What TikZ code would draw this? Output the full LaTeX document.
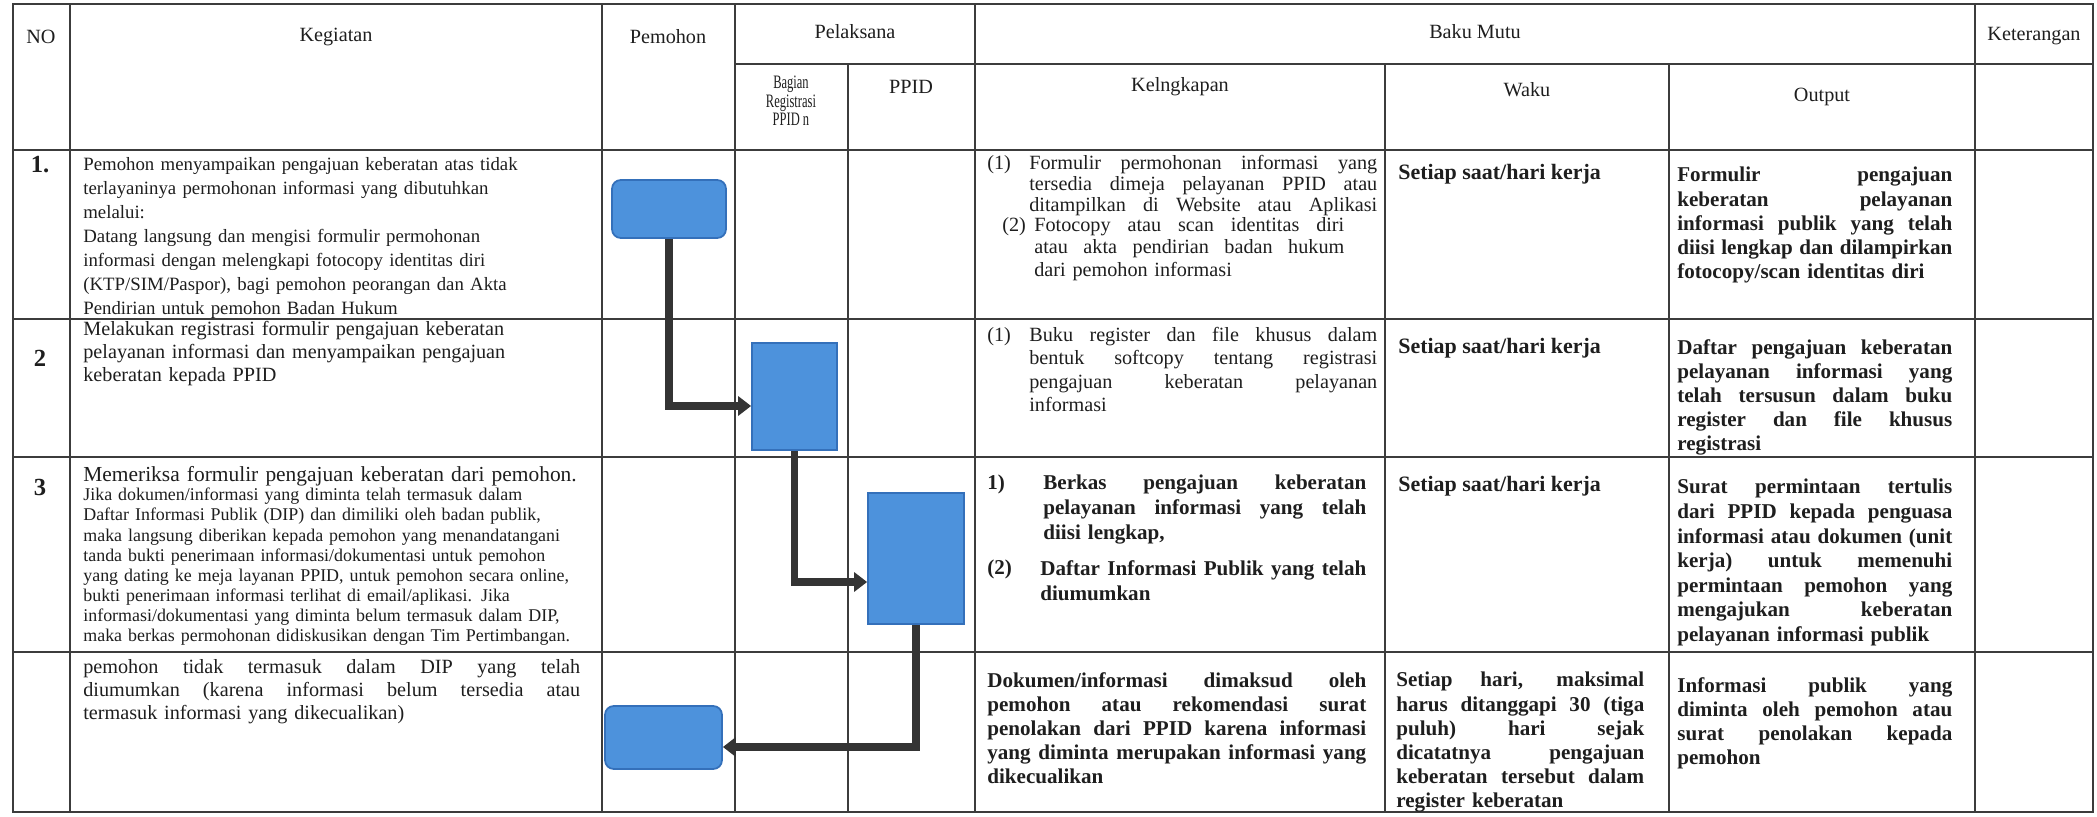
\documentclass[tikz,border=0pt]{standalone}
\usepackage{fontspec}
\setmainfont{Liberation Serif}
\newfontfamily\condensed[FakeStretch=0.66]{Liberation Serif}
\usetikzlibrary{positioning,arrows.meta}
\setlength{\parindent}{0pt}

\definecolor{actblue}{RGB}{77,146,220}
\definecolor{actedge}{RGB}{52,112,186}
\definecolor{linegray}{RGB}{60,60,60}
\definecolor{ink}{RGB}{30,30,30}
\definecolor{flowgray}{RGB}{52,52,52}

\newlength{\jw}
\newcommand{\jl}[1]{\makebox[\jw][s]{\spaceskip=0.25em plus 1fil\xspaceskip=0.25em plus 1fil\relax#1}}
\newcommand{\fs}[2]{\fontsize{#1}{#2}\selectfont}

\tikzstyle{tabline}=[draw=linegray, line width=0.8pt]
\tikzstyle{head}=[inner sep=0pt, text=ink, font=\fs{11.5}{12}]
\tikzstyle{txt}=[anchor=north west, inner sep=0pt, align=left, text=ink, font=\fs{11.5}{12.8}]
\tikzstyle{btxt}=[txt, font=\bfseries\fs{12}{13.7}]
\tikzstyle{jbox}=[text width=#1, execute at begin node={\setlength{\jw}{#1}}]
\tikzstyle{num}=[inner sep=0pt, text=ink, font=\bfseries\fs{14}{14}]
\tikzstyle{act}=[draw=actedge, fill=actblue, line width=1pt, inner sep=0pt]
\tikzstyle{flow}=[draw=flowgray, line width=4pt, -{Triangle[length=0.26cm,width=0.38cm]}]

\begin{document}
\begin{tikzpicture}[x=0.02cm, y=-0.02cm]
\useasboundingbox (0,0) rectangle (2097,817);

% table frame
\draw[tabline] (13,4) rectangle (2093,812);
\foreach \yy in {150,319,457,652} \draw[tabline] (13,\yy) -- (2093,\yy);
\draw[tabline] (735,64) -- (2093,64);
\foreach \xx in {70,602,735,975,1975} \draw[tabline] (\xx,4) -- (\xx,812);
\foreach \xx in {848,1385,1669} \draw[tabline] (\xx,64) -- (\xx,812);

% header
\node[head] at (41,37) (hno) {NO};
\node[head] at (336,37) (hkeg) {Kegiatan};
\node[head] at (668,37) (hpem) {Pemohon};
\node[head] at (855,32) (hpel) {Pelaksana};
\node[head] at (1475,32) (hbaku) {Baku Mutu};
\node[head] at (2034,36) (hket) {Keterangan};
\node[head, align=center, font=\condensed\fs{10.8}{8.7}] at (791,101) (hbag) {Bagian\\Registrasi\\PPID n};
\node[head] at (911,87) (hppid) {PPID};
\node[head] at (1180,87) (hkel) {Kelngkapan};
\node[head] at (1527,90) (hwaku) {Waku};
\node[head] at (1822,97) (hout) {Output};

% nomor
\node[num] at (40,165) (n1) {1.};
\node[num] at (40,358) (n2) {2};
\node[num] at (40,487) (n3) {3};

% kegiatan
\node[txt, text width=10.4cm, font=\fs{10.7}{13.7}] at (83,157) (keg1) {Pemohon menyampaikan pengajuan keberatan atas tidak\\terlayaninya permohonan informasi yang dibutuhkan\\melalui:\\Datang langsung dan mengisi formulir permohonan\\informasi dengan melengkapi fotocopy identitas diri\\(KTP/SIM/Paspor), bagi pemohon peorangan dan Akta\\Pendirian untuk pemohon Badan Hukum};
\node[txt, text width=10.4cm, font=\fs{11.5}{13}] at (83,321) (keg2) {Melakukan registrasi formulir pengajuan keberatan\\pelayanan informasi dan menyampaikan pengajuan\\keberatan kepada PPID};
\node[txt, text width=10.4cm, font=\fs{12.2}{13}] at (83,466) (keg3a) {Memeriksa formulir pengajuan keberatan dari pemohon.};
\node[txt, text width=10.4cm, font=\fs{10.2}{11.4}] at (83,488) (keg3b) {Jika dokumen/informasi yang diminta telah termasuk dalam\\Daftar Informasi Publik (DIP) dan dimiliki oleh badan publik,\\maka langsung diberikan kepada pemohon yang menandatangani\\tanda bukti penerimaan informasi/dokumentasi untuk pemohon\\yang dating ke meja layanan PPID, untuk pemohon secara online,\\bukti penerimaan informasi terlihat di email/aplikasi. Jika\\informasi/dokumentasi yang diminta belum termasuk dalam DIP,\\maka berkas permohonan didiskusikan dengan Tim Pertimbangan.};
\node[txt, jbox=9.94cm, font=\fs{11.5}{13}] at (83,659) (keg4) {\jl{pemohon tidak termasuk dalam DIP yang telah}\\\jl{diumumkan (karena informasi belum tersedia atau}\\termasuk informasi yang dikecualikan)};

% kelengkapan
\node[txt] at (987,155) (kel1n) {(1)};
\node[txt, jbox=6.96cm, font=\fs{11.5}{12}] at (1029,155) (kel1a) {\jl{Formulir permohonan informasi yang}\\\jl{tersedia dimeja pelayanan PPID atau}\\\jl{ditampilkan di Website atau Aplikasi}};
\node[txt] at (1002,217) (kel1m) {(2)};
\node[txt, jbox=6.2cm] at (1034,217) (kel1b) {\jl{Fotocopy atau scan identitas diri}\\\jl{atau akta pendirian badan hukum}\\dari pemohon informasi};
\node[txt] at (987,327) (kel2n) {(1)};
\node[txt, jbox=6.96cm, font=\fs{11.5}{13.3}] at (1029,327) (kel2) {\jl{Buku register dan file khusus dalam}\\\jl{bentuk softcopy tentang registrasi}\\\jl{pengajuan keberatan pelayanan}\\informasi};
\node[btxt] at (987,475) (kel3n) {1)};
\node[btxt, jbox=6.46cm, font=\bfseries\fs{12}{14.2}] at (1043,475) (kel3a) {\jl{Berkas pengajuan keberatan}\\\jl{pelayanan informasi yang telah}\\diisi lengkap,};
\node[btxt] at (987,560) (kel3m) {(2)};
\node[btxt, jbox=6.52cm, font=\bfseries\fs{12}{14.2}] at (1040,560) (kel3b) {\jl{Daftar Informasi Publik yang telah}\\diumumkan};
\node[btxt, jbox=7.58cm] at (987,672) (kel4) {\jl{Dokumen/informasi dimaksud oleh}\\\jl{pemohon atau rekomendasi surat}\\\jl{penolakan dari PPID karena informasi}\\\jl{yang diminta merupakan informasi yang}\\dikecualikan};

% waktu
\node[btxt, font=\bfseries\fs{12.5}{13}] at (1398,164) (w1) {Setiap saat/hari kerja};
\node[btxt, font=\bfseries\fs{12.5}{13}] at (1398,338) (w2) {Setiap saat/hari kerja};
\node[btxt, font=\bfseries\fs{12.5}{13}] at (1398,476) (w3) {Setiap saat/hari kerja};
\node[btxt, jbox=4.96cm] at (1396,672) (w4) {\jl{Setiap hari, maksimal}\\\jl{harus ditanggapi 30 (tiga}\\\jl{puluh) hari sejak}\\\jl{dicatatnya pengajuan}\\\jl{keberatan tersebut dalam}\\register keberatan};

% output
\node[btxt, jbox=5.5cm] at (1677,167) (o1) {\jl{Formulir pengajuan}\\\jl{keberatan pelayanan}\\\jl{informasi publik yang telah}\\\jl{diisi lengkap dan dilampirkan}\\fotocopy/scan identitas diri};
\node[btxt, jbox=5.5cm] at (1677,339) (o2) {\jl{Daftar pengajuan keberatan}\\\jl{pelayanan informasi yang}\\\jl{telah tersusun dalam buku}\\\jl{register dan file khusus}\\registrasi};
\node[btxt, jbox=5.5cm, font=\bfseries\fs{12}{14}] at (1677,479) (o3) {\jl{Surat permintaan tertulis}\\\jl{dari PPID kepada penguasa}\\\jl{informasi atau dokumen (unit}\\\jl{kerja) untuk memenuhi}\\\jl{permintaan pemohon yang}\\\jl{mengajukan keberatan}\\pelayanan informasi publik};
\node[btxt, jbox=5.5cm] at (1677,677) (o4) {\jl{Informasi publik yang}\\\jl{diminta oleh pemohon atau}\\\jl{surat penolakan kepada}\\pemohon};

% alur
\node[act, rounded corners=5pt, minimum width=2.28cm, minimum height=1.16cm] at (669,209) (pem1) {};
\node[act, minimum width=1.7cm, minimum height=2.14cm] at (794.5,396.5) (reg) {};
\node[act, minimum width=1.92cm, minimum height=2.62cm] at (916,558.5) (ppid) {};
\node[act, rounded corners=5pt, minimum width=2.34cm, minimum height=1.26cm] at (663.5,737.5) (pem4) {};

\draw[flow] (pem1) |- (reg.west |- 0,406);
\draw[flow] (reg) |- (ppid.west |- 0,582);
\draw[flow] (ppid) |- (pem4.east |- 0,747);
\end{tikzpicture}
\end{document}
